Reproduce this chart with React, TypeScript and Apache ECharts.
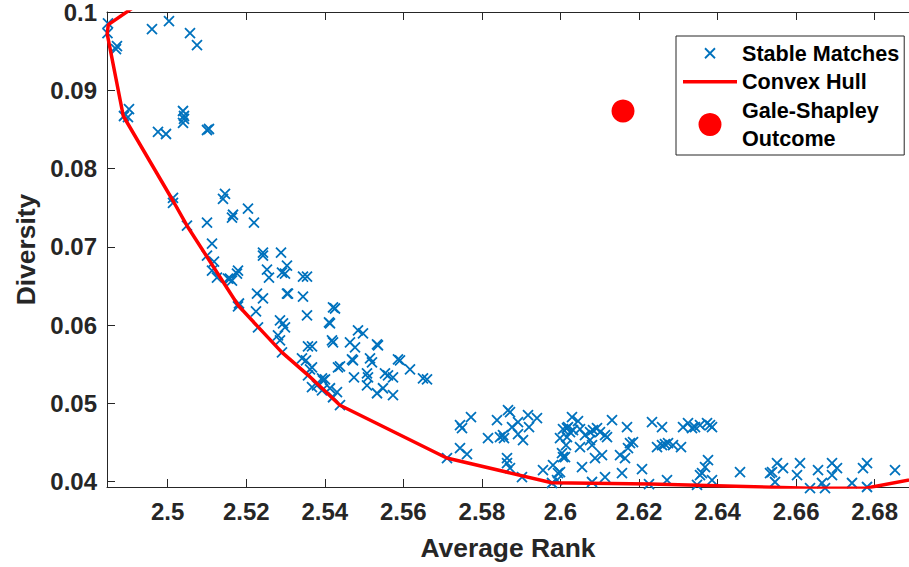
import React, { useEffect, useRef } from "react";
import * as echarts from "echarts";

// ---- axis ranges and ticks ----
const X_MIN = 2.48455;
const X_MAX = 2.68873;
const Y_MIN = 0.0393;
const Y_MAX = 0.1;
const X_TICKS = [2.5, 2.52, 2.54, 2.56, 2.58, 2.6, 2.62, 2.64, 2.66, 2.68];
const Y_TICKS = [0.04, 0.05, 0.06, 0.07, 0.08, 0.09, 0.1];

// ---- Stable matches: [average rank, diversity] ----
const stableTopLeft = [
  [2.4848, 0.09856], [2.48467, 0.09729], [2.48709, 0.09563], [2.48684, 0.09525],
  [2.496, 0.0978], [2.50033, 0.09882], [2.50568, 0.09729], [2.50746, 0.09576],
  [2.48887, 0.08671], [2.49015, 0.0876], [2.48989, 0.08658], [2.5039, 0.08735],
  [2.50415, 0.08671], [2.50415, 0.08633], [2.5039, 0.08582], [2.49753, 0.08467],
  [2.49957, 0.08441], [2.51001, 0.08492], [2.51051, 0.08505],
];

const stableMiddle = [
  [2.50135, 0.07626], [2.50135, 0.07562], [2.51459, 0.07677], [2.51408, 0.07613],
  [2.52044, 0.07486], [2.51637, 0.07371], [2.51663, 0.07409], [2.51001, 0.07307],
  [2.50491, 0.07269], [2.52197, 0.07307], [2.51128, 0.0704], [2.51001, 0.06887],
  [2.51179, 0.0681], [2.51128, 0.06696], [2.51255, 0.06606], [2.51535, 0.06594],
  [2.51637, 0.06568], [2.5179, 0.06696], [2.51764, 0.06657], [2.52426, 0.06925],
  [2.52426, 0.06887], [2.52885, 0.06925], [2.52528, 0.06708], [2.52579, 0.06606],
  [2.5291, 0.0667], [2.52986, 0.06657], [2.53037, 0.06759], [2.52274, 0.06402],
  [2.52426, 0.06339], [2.53037, 0.06402], [2.51815, 0.06275], [2.5179, 0.06237],
  [2.52248, 0.06173], [2.52859, 0.06058], [2.53445, 0.06619], [2.53547, 0.06619],
  [2.51586, 0.06594], [2.53063, 0.06402], [2.53445, 0.06364], [2.54209, 0.06224],
  [2.54259, 0.06211], [2.53547, 0.06122], [2.52299, 0.05969], [2.52936, 0.0602],
  [2.52986, 0.05969], [2.54107, 0.06033], [2.54132, 0.0602], [2.52808, 0.05867],
  [2.52859, 0.05803], [2.5291, 0.0565], [2.53572, 0.05727], [2.53674, 0.05727],
  [2.54183, 0.05803], [2.54209, 0.05778], [2.54845, 0.05931], [2.54972, 0.05893],
  [2.54641, 0.05778], [2.54769, 0.05714], [2.55354, 0.0574], [2.55329, 0.05752],
  [2.53419, 0.05574], [2.53521, 0.05549], [2.53674, 0.05459], [2.53623, 0.05434],
  [2.53572, 0.05357], [2.53928, 0.05319], [2.54005, 0.05306], [2.54387, 0.05472],
  [2.54336, 0.05459], [2.54692, 0.05561], [2.54718, 0.05549], [2.55151, 0.05574],
  [2.55201, 0.05523], [2.55863, 0.05561], [2.55914, 0.05549], [2.56169, 0.05434],
  [2.565, 0.05319], [2.56602, 0.05306], [2.54743, 0.05332], [2.55074, 0.05383],
  [2.551, 0.05332], [2.55532, 0.05383], [2.55609, 0.05357], [2.55736, 0.05332],
  [2.55074, 0.0523], [2.55481, 0.05192], [2.55329, 0.05128], [2.55736, 0.05103],
  [2.53954, 0.05294], [2.53801, 0.0523], [2.54132, 0.05192], [2.5431, 0.05141],
  [2.53674, 0.05205], [2.53928, 0.05166], [2.54209, 0.05077], [2.54387, 0.04975],
];

const stableLower = [
  [2.57111, 0.043], [2.57442, 0.04427], [2.5762, 0.04351], [2.57442, 0.0472],
  [2.57493, 0.04682], [2.57722, 0.04822], [2.58384, 0.04784], [2.58664, 0.04911],
  [2.58715, 0.04886], [2.58919, 0.04758], [2.58766, 0.04695], [2.59173, 0.04848],
  [2.59402, 0.04809], [2.59199, 0.04695], [2.58155, 0.04554], [2.5846, 0.04567],
  [2.58537, 0.04593], [2.58562, 0.04554], [2.58919, 0.04606], [2.59046, 0.04529],
  [2.58639, 0.043], [2.58639, 0.04236], [2.58715, 0.04172], [2.5902, 0.04057],
  [2.59555, 0.04147], [2.59784, 0.03981], [2.5981, 0.0421], [2.59937, 0.04108],
  [2.59912, 0.04019], [2.60039, 0.04363], [2.60115, 0.04312], [2.60141, 0.04465],
  [2.60166, 0.04682], [2.60166, 0.04567], [2.59988, 0.04121], [2.60293, 0.04822],
  [2.60446, 0.04771], [2.60064, 0.04669], [2.60192, 0.04695], [2.60243, 0.04631],
  [2.60319, 0.04656], [2.59988, 0.04554], [2.60497, 0.04669], [2.60624, 0.04593],
  [2.60752, 0.04631], [2.60828, 0.04656], [2.6093, 0.04682], [2.61006, 0.04631],
  [2.61134, 0.04593], [2.61185, 0.04567], [2.60752, 0.04529], [2.60803, 0.04465],
  [2.60497, 0.0444], [2.61312, 0.04784], [2.61694, 0.04695], [2.6177, 0.04491],
  [2.61847, 0.04503], [2.61719, 0.04427], [2.60064, 0.04312], [2.61057, 0.04338],
  [2.60879, 0.043], [2.61516, 0.04338], [2.61643, 0.043], [2.60548, 0.04185],
  [2.61566, 0.04108], [2.61134, 0.04057], [2.60803, 0.03994], [2.62076, 0.04159],
  [2.62254, 0.03968], [2.62712, 0.04019], [2.63476, 0.03956], [2.63756, 0.04274],
  [2.6368, 0.04185], [2.63603, 0.04108], [2.63552, 0.04083], [2.63858, 0.04019],
  [2.6233, 0.04758], [2.62585, 0.04695], [2.6312, 0.04695], [2.63247, 0.04746],
  [2.63349, 0.04682], [2.63425, 0.04695], [2.63552, 0.0472], [2.63731, 0.04746],
  [2.63807, 0.0472], [2.63858, 0.04695], [2.62458, 0.0444], [2.62585, 0.04465],
  [2.62661, 0.04478], [2.62738, 0.04491], [2.62865, 0.04465], [2.63069, 0.0444],
];

const stableRight = [
  [2.64571, 0.04121], [2.65335, 0.04108], [2.65385, 0.04121], [2.65462, 0.03994],
  [2.65513, 0.04236], [2.65666, 0.04172], [2.66022, 0.04083], [2.66098, 0.04236],
  [2.66353, 0.03917], [2.66557, 0.04147], [2.66658, 0.03981], [2.66735, 0.03917],
  [2.66913, 0.04236], [2.66913, 0.04083], [2.6704, 0.04172], [2.67422, 0.03981],
  [2.67702, 0.04172], [2.67804, 0.04236], [2.67804, 0.0393], [2.68517, 0.04147],
];

// ---- Convex hull vertices ----
const hullX = [
  2.4922, 2.48488, 2.4846, 2.4887, 2.50135, 2.50491, 2.51797, 2.52307, 2.52902,
  2.5358, 2.54387, 2.57103, 2.59777, 2.62279, 2.66353, 2.67797, 2.695,
];
const hullY = [
  0.1009, 0.09839, 0.0972, 0.08671, 0.07588, 0.07269, 0.0625, 0.05973, 0.05654,
  0.05357, 0.04975, 0.043, 0.03985, 0.03968, 0.03914, 0.03917, 0.0408,
];

// ---- Gale-Shapley outcome ----
const galeShapley = [[2.61592, 0.08735]];

const FONT = "'Liberation Sans', Arial, Helvetica, sans-serif";
const AXIS_COLOR = "#262626";
const BLUE = "#0072BD";
const RED = "#FF0000";

const fmt = (v: number) => String(parseFloat(Number(v).toFixed(4)));

export default function App() {
  const ref = useRef<HTMLDivElement>(null);

  useEffect(() => {
    if (!ref.current) return;
    const chart = echarts.init(ref.current, null, { renderer: "svg" });
    const stable = [...stableTopLeft, ...stableMiddle, ...stableLower, ...stableRight];
    const hull = hullX.map((x, i) => [x, hullY[i]]);

    const tickStyle = { color: AXIS_COLOR, width: 1 };

    chart.setOption({
      animation: false,
      backgroundColor: "#ffffff",
      textStyle: { fontFamily: FONT },
      grid: { left: 107, right: 0, top: 10.7, bottom: 80, containLabel: false },
      xAxis: [
        {
          type: "value",
          min: X_MIN,
          max: X_MAX,
          position: "bottom",
          name: "Average Rank",
          nameLocation: "middle",
          nameGap: 48,
          nameTextStyle: { fontSize: 26.4, fontWeight: "bold", color: AXIS_COLOR, fontFamily: FONT },
          axisLine: { show: true, onZero: false, lineStyle: tickStyle },
          axisTick: { show: true, inside: true, length: 8, customValues: X_TICKS, lineStyle: tickStyle },
          axisLabel: {
            show: true,
            customValues: X_TICKS,
            margin: 12,
            fontSize: 24,
            fontWeight: "bold",
            color: AXIS_COLOR,
            fontFamily: FONT,
            formatter: fmt,
          },
          splitLine: { show: false },
        },
        {
          type: "value",
          min: X_MIN,
          max: X_MAX,
          position: "top",
          axisLine: { show: true, onZero: false, lineStyle: tickStyle },
          axisTick: { show: true, inside: true, length: 8, customValues: X_TICKS, lineStyle: tickStyle },
          axisLabel: { show: false },
          splitLine: { show: false },
        },
      ],
      yAxis: [
        {
          type: "value",
          min: Y_MIN,
          max: Y_MAX,
          position: "left",
          name: "Diversity",
          nameLocation: "middle",
          nameRotate: 90,
          nameGap: 68,
          nameTextStyle: { fontSize: 26.4, fontWeight: "bold", color: AXIS_COLOR, fontFamily: FONT },
          axisLine: { show: true, onZero: false, lineStyle: tickStyle },
          axisTick: { show: true, inside: true, length: 8, customValues: Y_TICKS, lineStyle: tickStyle },
          axisLabel: {
            show: true,
            customValues: Y_TICKS,
            margin: 10,
            fontSize: 24,
            fontWeight: "bold",
            color: AXIS_COLOR,
            fontFamily: FONT,
            formatter: fmt,
          },
          splitLine: { show: false },
        },
      ],
      legend: {
        show: true,
        orient: "vertical",
        left: 676,
        top: 36,
        padding: [3, 5, 2, 7],
        itemGap: 0,
        itemWidth: 54,
        itemHeight: 23,
        selectedMode: false,
        backgroundColor: "#ffffff",
        borderColor: AXIS_COLOR,
        borderWidth: 1,
        borderRadius: 0,
        textStyle: {
          fontSize: 21.6,
          fontWeight: "bold",
          color: "#000000",
          fontFamily: FONT,
          lineHeight: 28.5,
        },
        data: [
          {
            name: "Stable Matches",
            icon: "path://M0,0M23,23M6.5,6.5L16.5,16.5M16.5,6.5L6.5,16.5",
            itemStyle: { color: "rgba(0,0,0,0)", borderColor: BLUE, borderWidth: 1.8, opacity: 1 },
          },
          {
            name: "Convex Hull",
            icon: "path://M0,0L54,0L54,3.5L0,3.5Z",
            itemStyle: { color: RED, borderWidth: 0, opacity: 1 },
          },
          {
            name: "Gale-Shapley\nOutcome",
            icon: "circle",
            itemStyle: { color: RED, borderWidth: 0, opacity: 1 },
          },
        ],
      },
      series: [
        {
          name: "Stable Matches",
          type: "scatter",
          data: stable,
          clip: false,
          symbol: "path://M0,0L10,10M10,0L0,10",
          symbolSize: 10,
          itemStyle: { color: "rgba(0,0,0,0)", borderColor: BLUE, borderWidth: 1.8, opacity: 1 },
          emphasis: { disabled: true },
          z: 2,
        },
        {
          name: "Convex Hull",
          type: "line",
          data: hull,
          clip: true,
          symbol: "none",
          showSymbol: false,
          lineStyle: { color: RED, width: 3.5 },
          itemStyle: { color: RED },
          emphasis: { disabled: true },
          z: 3,
        },
        {
          name: "Gale-Shapley\nOutcome",
          type: "scatter",
          data: galeShapley,
          clip: false,
          symbol: "circle",
          symbolSize: 23,
          itemStyle: { color: RED, opacity: 1 },
          emphasis: { disabled: true },
          z: 4,
        },
      ],
    });

    return () => {
      chart.dispose();
    };
  }, []);

  return (
    <div
      ref={ref}
      style={{ position: "fixed", left: 0, top: 0, width: 909, height: 567, background: "#fff" }}
    />
  );
}
